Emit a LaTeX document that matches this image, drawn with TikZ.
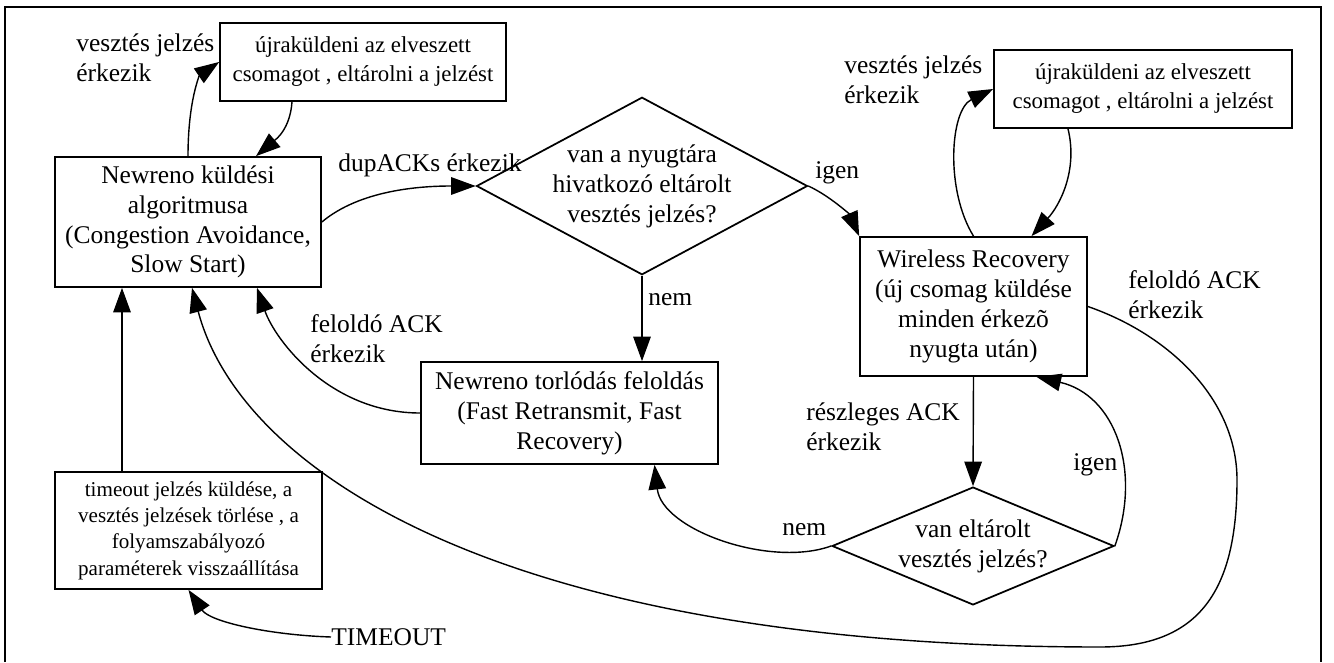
\documentclass[tikz,border=0pt]{standalone}
\usepackage{fontspec}
\setmainfont{Liberation Serif}
\usetikzlibrary{shapes.geometric,arrows.meta,calc}

\tikzset{
  statebox/.style={draw, line width=1pt, align=center, inner sep=2pt},
  decision/.style={draw, diamond, line width=1pt, align=center, inner sep=-12pt},
  smalltext/.style={font=\fontsize{13}{16.5}\selectfont},
  tinytext/.style={font=\fontsize{12}{15}\selectfont},
  edgetext/.style={anchor=west, align=left, inner sep=0pt},
  flow/.style={->, line width=0.8pt}
}

\begin{document}
\begin{tikzpicture}[x=0.02cm, y=-0.02cm, >={Triangle[length=14pt,width=10pt]},
    font=\fontsize{14.5}{17}\selectfont]
  \useasboundingbox (0,0) rectangle (1334,662);
  % Frame
  \draw[line width=0.6pt] (5,662) -- (5,7) -- (1321,7) -- (1321,662);

  % States
  \node[statebox, smalltext, minimum width=5.72cm, minimum height=1.56cm] (resendL) at (363,62) {újraküldeni az elveszett\\csomagot , eltárolni a jelzést};
  \node[statebox, minimum width=5.32cm, minimum height=2.6cm] (newreno) at (188,222) {Newreno küldési\\algoritmusa\\(Congestion Avoidance,\\Slow Start)};
  \node[decision, minimum width=6.62cm, minimum height=2.8cm] (ask) at (642,186) {van a nyugtára\\hivatkozó eltárolt\\vesztés jelzés?};
  \node[statebox, minimum width=4.54cm, minimum height=2.78cm] (wireless) at (973.5,306.5) {Wireless Recovery\\(új csomag küldése\\minden érkezõ\\nyugta után)};
  \node[statebox, smalltext, minimum width=5.96cm, minimum height=1.56cm] (resendR) at (1143,89) {újraküldeni az elveszett\\csomagot , eltárolni a jelzést};
  \node[statebox, minimum width=5.94cm, minimum height=2.04cm] (resolve) at (569.5,413) {Newreno torlódás feloldás\\(Fast Retransmit, Fast\\Recovery)};
  \node[statebox, tinytext, minimum width=5.34cm, minimum height=2.34cm] (reset) at (188.5,530.5) {timeout jelzés küldése, a\\vesztés jelzések törlése , a\\folyamszabályozó\\paraméterek visszaállítása};
  \node[decision, minimum width=5.64cm, minimum height=2.28cm] (stored) at (973,546) {van eltárolt\\vesztés jelzés?};

  % Edge texts
  \node[edgetext] (lossL) at (76,57.5) {vesztés jelzés\\érkezik};
  \node[edgetext] (dupack) at (338,165) {dupACKs érkezik};
  \node[edgetext] (yesTop) at (815,173) {igen};
  \node[edgetext] (noTop) at (648,300) {nem};
  \node[edgetext] (freeL) at (310,338.5) {feloldó ACK\\érkezik};
  \node[edgetext] (lossR) at (844,79.5) {vesztés jelzés\\érkezik};
  \node[edgetext] (freeR) at (1128,295) {feloldó ACK\\érkezik};
  \node[edgetext] (partial) at (806,427) {részleges ACK\\érkezik};
  \node[edgetext] (yesLow) at (1073,465) {igen};
  \node[edgetext] (noLow) at (782,530) {nem};
  \node[edgetext] (timeout) at (331,637) {TIMEOUT};

  % Left loop
  \draw[flow] (newreno.north) .. controls (188,100) and (200,75) .. (resendL.west);
  \draw[flow] ($(resendL.south)+(-71,0)$) .. controls (290,130) and (275,140) .. ($(newreno.north)+(68,0)$);

  % Decision on dupACKs
  \draw[flow] (newreno.east) .. controls (360,190) and (420,186) .. (ask.west);
  \draw[flow] (ask.east) .. controls (830,196) and (850,215) .. (wireless.north west);
  \draw[flow] (ask.south) -- (ask.south |- resolve.north);
  \draw[flow] (resolve.west) .. controls (330,413) and (275,340) .. ($(newreno.south)+(69,0)$);

  % Timeout
  \draw[flow] (timeout.west) .. controls (270,635) and (210,622) .. (reset.south);
  \draw[flow] ($(reset.north)+(-66.5,0)$) coordinate (up) -- (up |- newreno.south);

  % Right loop
  \draw[flow] (wireless.north) .. controls (945,190) and (950,110) .. (resendR.west);
  \draw[flow] ($(resendR.south)+(-75,0)$) .. controls (1078,170) and (1060,205) .. ($(wireless.north)+(58,0)$);

  % Partial ACK
  \draw[flow] (wireless.south) -- (stored.north);
  \draw[flow] (stored.east) .. controls (1142,470) and (1115,395) .. ($(wireless.south)+(63,0)$);
  \draw[flow] (stored.west) .. controls (770,568) and (662,530) .. ($(resolve.south)+(85,0)$);

  % Back to Newreno
  \draw[flow] (wireless.east) .. controls (1170,335) and (1237,400) .. (1237,480)
    .. controls (1237,590) and (1200,647) .. (1100,647)
    .. controls (500,647) and (240,470) .. ($(newreno.south)+(4,0)$);
\end{tikzpicture}
\end{document}
